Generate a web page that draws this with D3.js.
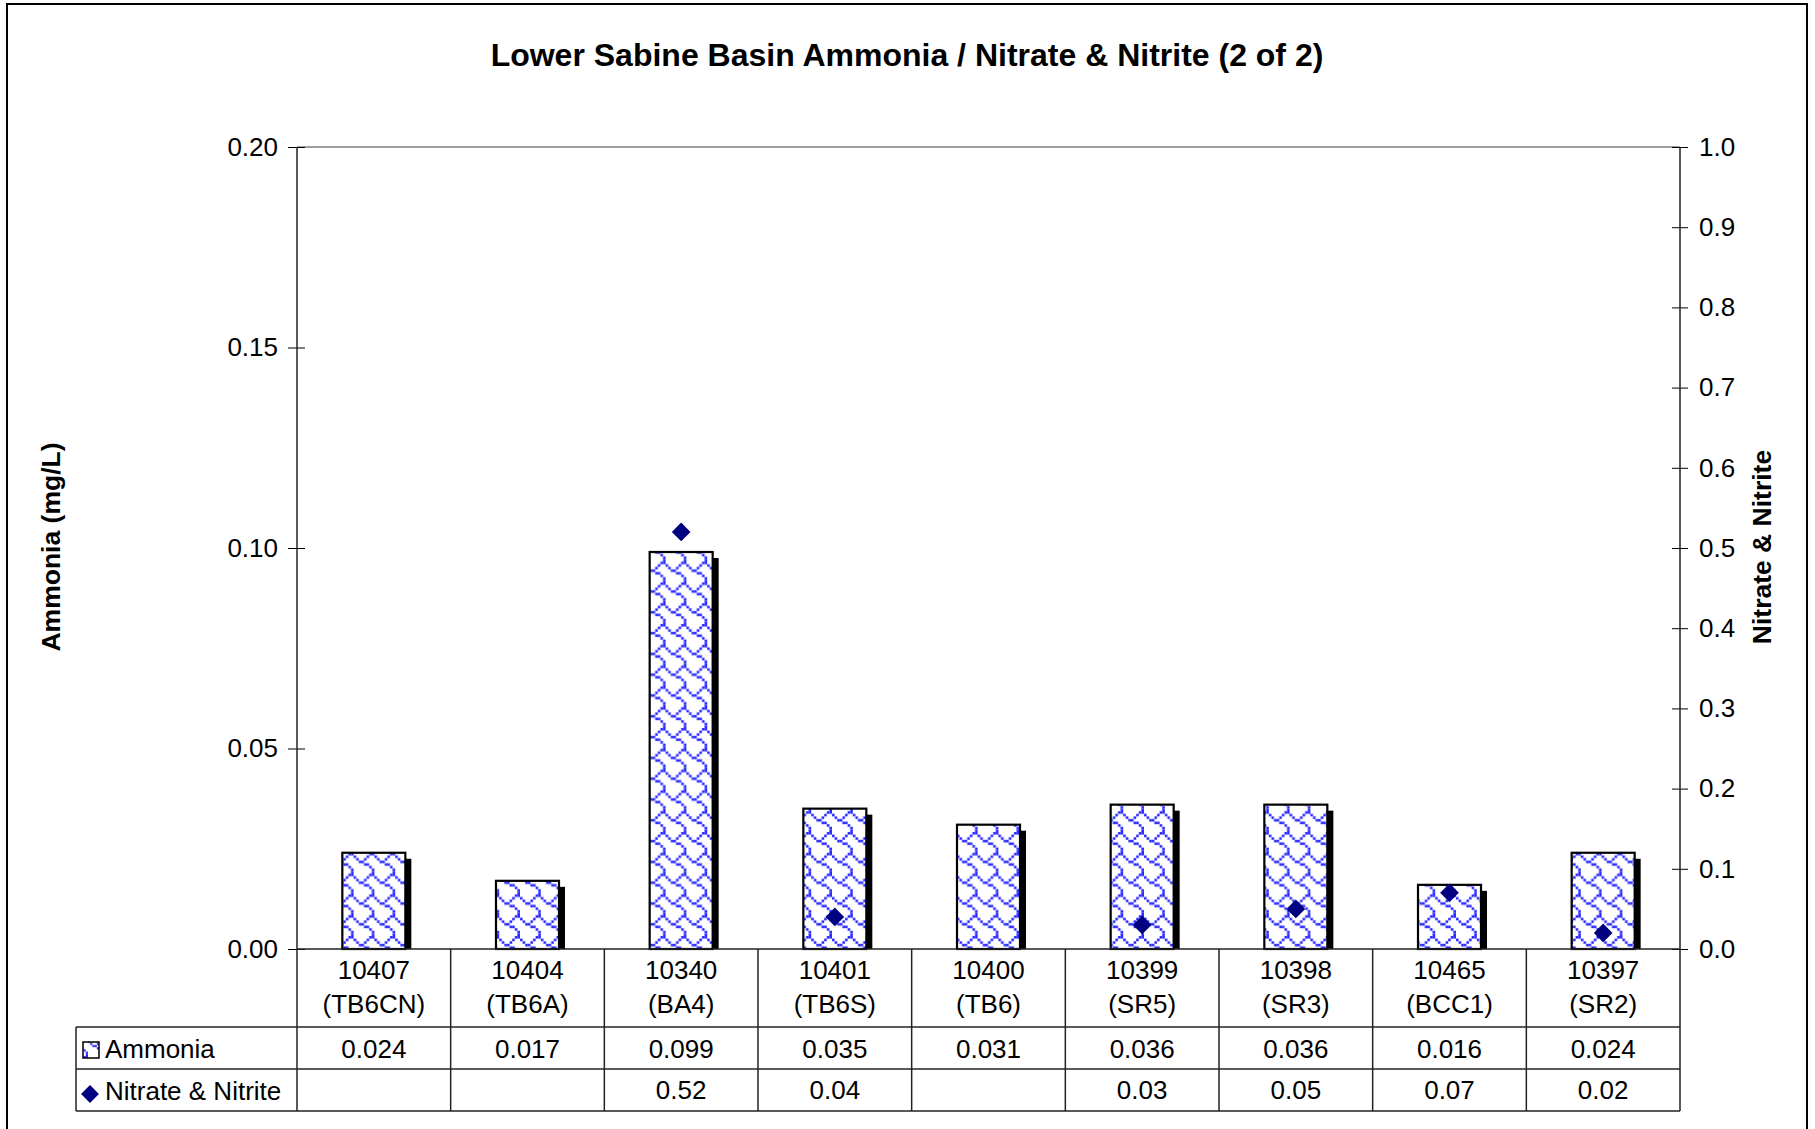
<!DOCTYPE html>
<html><head><meta charset="utf-8">
<script src="https://cdn.jsdelivr.net/npm/d3@7"></script>
<style>
html,body{margin:0;padding:0;background:#fff;}
svg{display:block;font-family:"Liberation Sans",Arial,sans-serif;}
</style></head>
<body>
<svg id="chart" width="1815" height="1129"></svg>
<script>
const stations = ["10407","10404","10340","10401","10400","10399","10398","10465","10397"];
const stationCodes = ["(TB6CN)","(TB6A)","(BA4)","(TB6S)","(TB6)","(SR5)","(SR3)","(BCC1)","(SR2)"];
const ammonia = [0.024,0.017,0.099,0.035,0.031,0.036,0.036,0.016,0.024];
const ammoniaLabels = ["0.024","0.017","0.099","0.035","0.031","0.036","0.036","0.016","0.024"];
const nitrate = [null,null,0.52,0.04,null,0.03,0.05,0.07,0.02];
const nitrateLabels = ["","","0.52","0.04","","0.03","0.05","0.07","0.02"];
const leftTicks = [0,0.05,0.10,0.15,0.20];
const rightTicks = [0,0.1,0.2,0.3,0.4,0.5,0.6,0.7,0.8,0.9,1.0];
const seriesNames = ["Ammonia","Nitrate & Nitrite"];
const titleText = "Lower Sabine Basin Ammonia / Nitrate & Nitrite (2 of 2)";

const svg = d3.select("#chart");
const L = 297, R = 1680, T = 147, B = 949;
const tableLeft = 76, row1 = 1027, row2 = 1069, row3 = 1111;
const fs = 26;
const ff = "'Liberation Sans', Arial, sans-serif";

// shingle pattern
const defs = svg.append("defs");
const bits = ["00000011","10000100","01001000","00110000","00001100","00000010","00000001","00000001"];
function makePattern(id, cell){
  const p = defs.append("pattern").attr("id",id).attr("patternUnits","userSpaceOnUse")
    .attr("width",cell*8).attr("height",cell*8);
  p.append("rect").attr("width",cell*8).attr("height",cell*8).attr("fill","#fff");
  bits.forEach((row,r)=>{ row.split("").forEach((b,c)=>{ if(b==="1"){
    p.append("rect").attr("x",c*cell).attr("y",r*cell).attr("width",cell).attr("height",cell).attr("fill","#2a2aff");
  }});});
}
makePattern("shingle",2.6);
makePattern("shingleSmall",2.2);

// outer border
svg.append("rect").attr("x",7).attr("y",4).attr("width",1800).attr("height",1140)
  .attr("fill","none").attr("stroke","#000").attr("stroke-width",2);

// title
svg.append("text").attr("x",907).attr("y",66).attr("text-anchor","middle")
  .attr("font-size",32).attr("font-weight","bold").text(titleText);

const x = d3.scaleBand().domain(stations).range([L,R]).padding(0);
const yL = d3.scaleLinear().domain([0,0.2]).range([B,T]);
const yR = d3.scaleLinear().domain([0,1]).range([B,T]);
const barW = 63;

// plot frame top
svg.append("line").attr("x1",L).attr("x2",R).attr("y1",T).attr("y2",T).attr("stroke","#808080").attr("stroke-width",1.5);

// bar shadows
const off = 6;
svg.append("g").selectAll("rect").data(ammonia).join("rect")
  .attr("x",(d,i)=>x(stations[i])+x.bandwidth()/2-barW/2+off)
  .attr("y",d=>yL(d)+off)
  .attr("width",barW)
  .attr("height",d=>Math.max(0,B-yL(d)-off))
  .attr("fill","#000");
// bars
svg.append("g").selectAll("rect").data(ammonia).join("rect")
  .attr("x",(d,i)=>x(stations[i])+x.bandwidth()/2-barW/2)
  .attr("y",d=>yL(d))
  .attr("width",barW)
  .attr("height",d=>B-yL(d))
  .attr("fill","url(#shingle)").attr("stroke","#000").attr("stroke-width",2.2);

// axes
const gl = svg.append("g").attr("transform",`translate(${L},0)`)
  .call(d3.axisLeft(yL).tickValues(leftTicks).tickFormat(d3.format(".2f")).tickSize(9).tickPadding(10));
gl.select(".domain").remove();
gl.selectAll("line").attr("x1",8).attr("stroke","#000");
gl.selectAll("text").attr("font-size",fs).attr("font-family",ff).attr("fill","#000");

const gr = svg.append("g").attr("transform",`translate(${R},0)`)
  .call(d3.axisRight(yR).tickValues(rightTicks).tickFormat(d3.format(".1f")).tickSize(8).tickPadding(11));
gr.select(".domain").remove();
gr.selectAll("line").attr("x1",-8).attr("stroke","#000");
gr.selectAll("text").attr("font-size",fs).attr("font-family",ff).attr("fill","#000");

svg.append("line").attr("x1",L).attr("x2",L).attr("y1",T).attr("y2",B).attr("stroke","#222").attr("stroke-width",1.5);
svg.append("line").attr("x1",R).attr("x2",R).attr("y1",T).attr("y2",B).attr("stroke","#222").attr("stroke-width",1.5);

// nitrate diamonds
svg.append("g").selectAll("path").data(nitrate.map((v,i)=>({v,i})).filter(d=>d.v!==null)).join("path")
  .attr("transform",d=>`translate(${x(stations[d.i])+x.bandwidth()/2},${yR(d.v)}) rotate(45)`)
  .attr("d",d3.symbol().type(d3.symbolSquare).size(175)())
  .attr("fill","#000080");

// table
const tg = svg.append("g").attr("stroke","#222").attr("stroke-width",1.5);
tg.append("line").attr("x1",L).attr("x2",R).attr("y1",B).attr("y2",B);
tg.append("line").attr("x1",tableLeft).attr("x2",R).attr("y1",row1).attr("y2",row1);
tg.append("line").attr("x1",tableLeft).attr("x2",R).attr("y1",row2).attr("y2",row2);
tg.append("line").attr("x1",tableLeft).attr("x2",R).attr("y1",row3).attr("y2",row3);
tg.append("line").attr("x1",tableLeft).attr("x2",tableLeft).attr("y1",row1).attr("y2",row3);
const bounds = stations.map(s=>x(s)).concat([R]);
tg.selectAll("line.v").data(bounds).join("line").attr("class","v")
  .attr("x1",d=>d).attr("x2",d=>d).attr("y1",B).attr("y2",row3);

const txt = svg.append("g").attr("font-size",fs).attr("text-anchor","middle").attr("fill","#000");
stations.forEach((s,i)=>{
  const cx = x(s)+x.bandwidth()/2;
  txt.append("text").attr("x",cx).attr("y",979).text(s);
  txt.append("text").attr("x",cx).attr("y",1013).text(stationCodes[i]);
  txt.append("text").attr("x",cx).attr("y",1058).text(ammoniaLabels[i]);
  txt.append("text").attr("x",cx).attr("y",1099).text(nitrateLabels[i]);
});

// legend keys
svg.append("rect").attr("x",83).attr("y",1042).attr("width",16).attr("height",16)
  .attr("fill","url(#shingleSmall)").attr("stroke","#000").attr("stroke-width",1.5);
svg.append("text").attr("x",105).attr("y",1058).attr("font-size",fs).text(seriesNames[0]);
svg.append("path").attr("transform","translate(90,1094) rotate(45)")
  .attr("d",d3.symbol().type(d3.symbolSquare).size(160)()).attr("fill","#000080");
svg.append("text").attr("x",105).attr("y",1100).attr("font-size",fs).text(seriesNames[1]);

// axis titles
svg.append("text").attr("transform","translate(60,547) rotate(-90)").attr("text-anchor","middle")
  .attr("font-size",26.5).attr("font-weight","bold").text("Ammonia (mg/L)");
svg.append("text").attr("transform","translate(1771,547) rotate(-90)").attr("text-anchor","middle")
  .attr("font-size",26.5).attr("font-weight","bold").text("Nitrate & Nitrite");
</script>
</body></html>
